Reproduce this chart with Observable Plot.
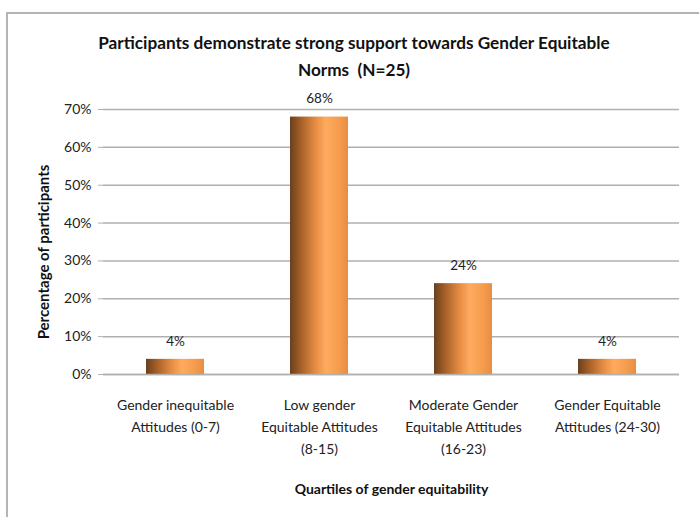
<!DOCTYPE html>
<html>
<head>
<meta charset="utf-8">
<script src="https://cdn.jsdelivr.net/npm/d3@7"></script>
<script src="https://cdn.jsdelivr.net/npm/@observablehq/plot@0.6"></script>
<style>
  html, body { margin: 0; padding: 0; background: #fff; overflow: hidden; }
  #wrap { position: relative; width: 699px; height: 517px; overflow: hidden; font-family: Lato, "Open Sans", sans-serif; }
  #frame { position: absolute; left: 6px; top: 12px; width: 900px; height: 900px; border: 2px solid #b4b4b4; box-sizing: border-box; }
  #title { position: absolute; left: 0; width: 708px; top: 29px; text-align: center; font-weight: bold; font-size: 17.2px; line-height: 27px; color: #111; }
  #plot { position: absolute; left: 0; top: 0; }
</style>
</head>
<body>
<div id="wrap">
  <div id="frame"></div>
  <div id="plot"></div>
  <div id="title">Participants demonstrate strong support towards Gender Equitable<br>Norms&nbsp; (N=25)</div>
</div>
<script>
const categories = [
  "Gender inequitable\nAttitudes (0-7)",
  "Low gender\nEquitable Attitudes\n(8-15)",
  "Moderate Gender\nEquitable Attitudes\n(16-23)",
  "Gender Equitable\nAttitudes (24-30)"
];
const values = [4, 68, 24, 4];
const yTicks = [0, 10, 20, 30, 40, 50, 60, 70];
const xTitle = "Quartiles of gender equitability";
const yTitle = "Percentage of participants";

const data = categories.map((c, i) => ({cat: c, v: values[i]}));
const font = 'Lato, "Open Sans", sans-serif';

const chart = Plot.plot({
  width: 699,
  height: 517,
  marginLeft: 103,
  marginRight: 20,
  marginTop: 109,
  marginBottom: 143,
  style: {fontFamily: font, fontSize: "13px", color: "#222", background: "transparent"},
  x: {domain: categories, paddingInner: 0.6, paddingOuter: 0.3, label: null},
  y: {domain: [0, 70], label: null},
  marks: [
    Plot.gridY(yTicks, {stroke: "#b0b0b0", strokeOpacity: 1, strokeWidth: 1.5}),
    Plot.ruleX([0], {frameAnchor: "left", stroke: "#b0b0b0", strokeWidth: 1.5}),
    Plot.axisY({ticks: yTicks, tickFormat: d => d + "%", tickSize: 5, tickPadding: 7, stroke: "#b0b0b0", fontSize: 14, fill: "#222"}),
    Plot.axisX({tickSize: 0, tickPadding: 20, lineHeight: 1.57, fontSize: 14, fill: "#222", lineAnchor: "top"}),
    Plot.barY(data, {x: "cat", y: "v", fill: "url(#barGrad)"}),
    Plot.ruleY([0], {stroke: "#b0b0b0", strokeWidth: 1.5}),
    Plot.text(data, {x: "cat", y: "v", text: d => d.v + "%", dy: -18, fontSize: 13.5, fill: "#222"}),
    Plot.text([xTitle], {frameAnchor: "bottom", dy: 119, text: d => d, fontWeight: "bold", fontSize: 14, fill: "#111"})
  ]
});

const svg = d3.select(chart);
const defs = svg.insert("defs", ":first-child");
const g = defs.append("linearGradient").attr("id", "barGrad").attr("x1", "0").attr("x2", "1").attr("y1", "0").attr("y2", "0");
[[0, "#6a3f1c"], [0.2, "#a8622a"], [0.45, "#e88e44"], [0.62, "#ffab60"], [0.85, "#f59c4c"], [1, "#e58d43"]].forEach(([o, c]) => {
  g.append("stop").attr("offset", o).attr("stop-color", c);
});
svg.append("text")
  .attr("transform", "translate(45,252) rotate(-90)")
  .attr("text-anchor", "middle")
  .attr("dominant-baseline", "middle")
  .attr("font-family", font)
  .attr("font-weight", "bold")
  .attr("font-size", 15)
  .attr("fill", "#111")
  .text(yTitle);
document.getElementById("plot").appendChild(chart);
</script>
</body>
</html>
